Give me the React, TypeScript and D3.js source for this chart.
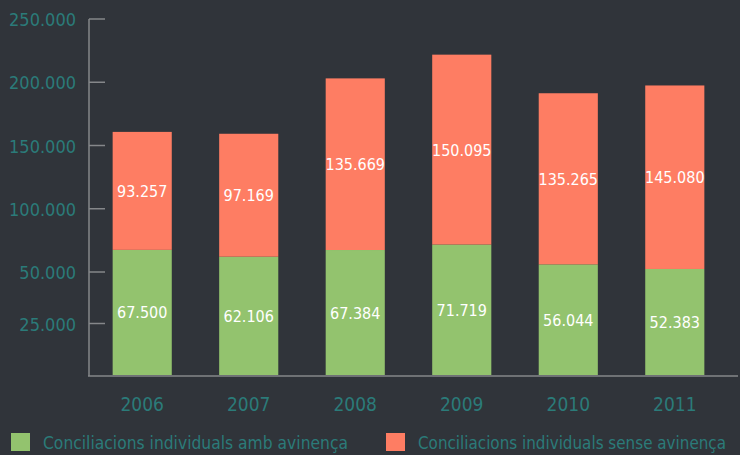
import React, { useEffect, useRef } from "react";
import * as d3 from "d3";

const years = ["2006", "2007", "2008", "2009", "2010", "2011"];
const ambAvinenca = [67500, 62106, 67384, 71719, 56044, 52383];
const senseAvinenca = [93257, 97169, 135669, 150095, 135265, 145080];
const tickValues = [25000, 50000, 100000, 150000, 200000, 250000];
const seriesNames = ["Conciliacions individuals amb avinença", "Conciliacions individuals sense avinença"];
const colors = ["#93c36e", "#fe7d63"];

const fmt = (v: number) => d3.format(",")(v).replace(/,/g, ".");

const App = () => {
  const ref = useRef<SVGSVGElement>(null);

  useEffect(() => {
    const width = 740, height = 455;
    const svg = d3.select(ref.current);
    svg.selectAll("*").remove();
    svg.attr("width", width).attr("height", height);

    svg.append("rect").attr("width", width).attr("height", height).attr("fill", "#30343a");

    const font = "'DejaVu Sans', sans-serif";
    const teal = "#2b7b79";
    const narrow = "font-stretch: condensed";

    // the original axis is broken: 0-50.000 takes more room than the rest
    const y = d3.scaleLinear().domain([0, 50000, 250000]).range([375, 272, 19]);
    const x = d3.scaleBand().domain(years).range([89, 728]).paddingInner(0.445).paddingOuter(0.222);

    const rows = years.map((yr, i) => ({ year: yr, amb: ambAvinenca[i], sense: senseAvinenca[i] }));
    const stack = d3.stack<any>().keys(["amb", "sense"])(rows);

    // axis
    const axis = svg.append("g").attr("stroke", "#85878a").attr("stroke-width", 1.5);
    axis.append("line").attr("x1", 89).attr("x2", 89).attr("y1", 19).attr("y2", 376);
    axis.append("line").attr("x1", 88).attr("x2", 738).attr("y1", 376).attr("y2", 376);
    axis.selectAll("line.tick").data(tickValues).enter().append("line")
      .attr("class", "tick")
      .attr("x1", 89).attr("x2", 105)
      .attr("y1", d => y(d)).attr("y2", d => y(d));

    svg.append("g").selectAll("text").data(tickValues).enter().append("text")
      .attr("x", 76).attr("y", d => y(d) + 7)
      .attr("text-anchor", "end")
      .attr("style", narrow)
      .attr("font-family", font).attr("font-size", 18).attr("fill", teal)
      .text(d => fmt(d));

    stack.forEach((layer, li) => {
      const g = svg.append("g");
      g.selectAll("rect").data(layer).enter().append("rect")
        .attr("x", d => x(d.data.year)!)
        .attr("width", x.bandwidth())
        .attr("y", d => y(d[1]))
        .attr("height", d => y(d[0]) - y(d[1]))
        .attr("fill", colors[li]);
      g.selectAll("text").data(layer).enter().append("text")
        .attr("x", d => x(d.data.year)! + x.bandwidth() / 2)
        .attr("y", d => (y(d[0]) + y(d[1])) / 2 + 6)
        .attr("text-anchor", "middle")
        .attr("style", narrow)
        .attr("font-family", font).attr("font-size", 16).attr("fill", "#ffffff")
        .text(d => fmt(d[1] - d[0]));
    });

    svg.append("g").selectAll("text").data(years).enter().append("text")
      .attr("x", d => x(d)! + x.bandwidth() / 2)
      .attr("y", 411)
      .attr("text-anchor", "middle")
      .attr("style", narrow)
      .attr("font-family", font).attr("font-size", 19).attr("fill", teal)
      .text(d => d);

    const legendX = [11, 386];
    const legendW = [305, 308];
    seriesNames.forEach((name, i) => {
      svg.append("rect").attr("x", legendX[i]).attr("y", 433).attr("width", 19).attr("height", 18).attr("fill", colors[i]);
      svg.append("text").attr("x", legendX[i] + 32).attr("y", 449)
        .attr("style", narrow)
        .attr("font-family", font).attr("font-size", 18).attr("fill", teal)
        .attr("textLength", legendW[i]).attr("lengthAdjust", "spacingAndGlyphs")
        .text(name);
    });
  }, []);

  return <svg ref={ref} style={{ position: "absolute", left: 0, top: 0 }}></svg>;
};

export default App;
